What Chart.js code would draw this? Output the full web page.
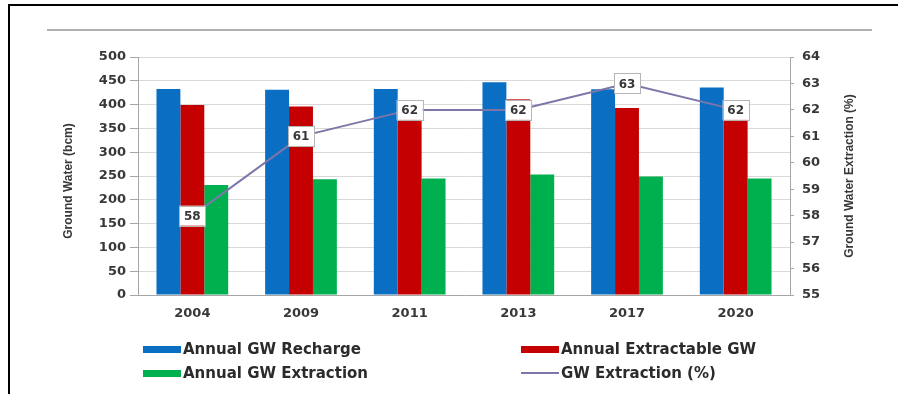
<!DOCTYPE html>
<html>
<head>
<meta charset="utf-8">
<title>Ground Water</title>
<script src="https://cdn.jsdelivr.net/npm/chart.js@4.4.1/dist/chart.umd.min.js"></script>
<style>
    html, body { margin: 0; padding: 0; background: #fff; }
    #frame { position: relative; width: 898px; height: 394px; overflow: hidden; }
    #edge { position: absolute; left: 8px; top: 4px; right: -6px; bottom: -6px;
            border-left: 2px solid #000; border-top: 2px solid #000; }
    #rule { position: absolute; left: 47px; top: 29px; width: 825px; height: 2px; background: #b0b0b0; }
    #gw { position: absolute; left: 0; top: 0; }
    .lg { position: absolute; display: flex; align-items: center; white-space: nowrap;
          font: bold 15px "DejaVu Sans", sans-serif; color: #2b2b2b; transform: translateY(-50%); }
    .sw { display: inline-block; width: 38px; height: 7px; margin-right: 2px; }
    .sw.line { height: 2px; }
</style>
</head>
<body>
<div id="frame">
    <div id="edge"></div>
    <div id="rule"></div>
    <canvas id="gw" width="898" height="394"></canvas>
    <div id="legend"></div>
</div>
<script>
// ---- data ----
const years         = ['2004', '2009', '2011', '2013', '2017', '2020'];
const recharge      = [433, 431, 433, 447, 432, 436];
const extractable   = [399, 396, 398, 411, 393, 398];
const extraction    = [231, 243, 245, 253, 249, 245];
const extractionPct = [58, 61, 62, 62, 63, 62];
const bcmTicks      = [0, 500, 50];   // min, max, step
const pctTicks      = [55, 64, 1];

const leftTitle  = 'Ground Water (bcm)';
const rightTitle = 'Ground Water Extraction (%)';

const blue = '#0a6fc2', red = '#c40000', green = '#00b04f', purple = '#7d76a8';
const gridC = '#d9d9d9', axisC = '#a6a6a6', textC = '#383838';
const tickFont = { family: '"DejaVu Sans", sans-serif', size: 13, weight: 'bold' };

// white boxed value labels on the line
const boxLabels = {
    id: 'boxLabels',
    afterDatasetsDraw(chart) {
        const idx = chart.data.datasets.findIndex(d => d.type === 'line');
        const meta = chart.getDatasetMeta(idx);
        const ctx = chart.ctx;
        ctx.save();
        ctx.font = 'bold 12px "DejaVu Sans", sans-serif';
        ctx.textAlign = 'center';
        ctx.textBaseline = 'middle';
        meta.data.forEach((pt, i) => {
            const w = 26, h = 20;
            ctx.fillStyle = '#fff';
            ctx.fillRect(pt.x - w / 2, pt.y - h / 2, w, h);
            ctx.strokeStyle = '#b5b5b5';
            ctx.lineWidth = 1;
            ctx.strokeRect(Math.round(pt.x - w / 2) + 0.5, Math.round(pt.y - h / 2) + 0.5, w, h);
            ctx.fillStyle = textC;
            ctx.fillText(String(chart.data.datasets[idx].data[i]), pt.x, pt.y + 1);
        });
        ctx.restore();
    }
};

// both axis titles read bottom-to-top
const axisTitles = {
    id: 'axisTitles',
    afterDraw(chart) {
        const ctx = chart.ctx;
        const a = chart.chartArea;
        const put = (txt, x, y) => {
            ctx.save();
            ctx.translate(x, y);
            ctx.rotate(-Math.PI / 2);
            ctx.fillText(txt, 0, 0);
            ctx.restore();
        };
        ctx.save();
        ctx.font = 'bold 12px "Liberation Sans", Arial, sans-serif';
        ctx.fillStyle = textC;
        ctx.textAlign = 'center';
        ctx.textBaseline = 'middle';
        put(leftTitle, 69, (a.top + a.bottom) / 2 + 5);
        put(rightTitle, 850, (a.top + a.bottom) / 2);
        ctx.restore();
    }
};

const chart = new Chart(document.getElementById('gw'), {
    type: 'bar',
    data: {
        labels: years,
        datasets: [
            { type: 'line', label: 'GW Extraction (%)', data: extractionPct, yAxisID: 'y1',
              borderColor: purple, borderWidth: 2, pointRadius: 0, tension: 0, order: 0 },
            { label: 'Annual GW Recharge', data: recharge, backgroundColor: blue, order: 1 },
            { label: 'Annual Extractable GW', data: extractable, backgroundColor: red, order: 1 },
            { label: 'Annual GW Extraction', data: extraction, backgroundColor: green, order: 1 }
        ]
    },
    options: {
        responsive: false,
        animation: false,
        categoryPercentage: 0.66,
        barPercentage: 1,
        layout: { padding: { left: 55, right: 0, top: 57, bottom: 69 } },
        plugins: { legend: { display: false }, tooltip: { enabled: false } },
        scales: {
            x: {
                grid: { display: false },
                border: { color: axisC, width: 1 },
                ticks: { font: tickFont, color: textC, padding: 3 },
                afterFit: s => { s.height = 30; }
            },
            y: {
                position: 'left',
                min: bcmTicks[0], max: bcmTicks[1],
                ticks: { stepSize: bcmTicks[2], font: tickFont, color: textC, padding: 4 },
                grid: { color: gridC, tickColor: axisC, tickLength: 8 },
                border: { color: axisC },
                afterFit: s => { s.width = 83; }
            },
            y1: {
                position: 'right',
                min: pctTicks[0], max: pctTicks[1],
                ticks: { stepSize: pctTicks[2], font: tickFont, color: textC, padding: 8 },
                grid: { drawOnChartArea: false, tickColor: axisC, tickLength: 4 },
                border: { color: axisC },
                afterFit: s => { s.width = 108; }
            }
        }
    },
    plugins: [boxLabels, axisTitles]
});

// legend in two columns, as in the figure
const legendSpots = {
    'Annual GW Recharge':    [143, 349],
    'Annual Extractable GW': [521, 349],
    'Annual GW Extraction':  [143, 373],
    'GW Extraction (%)':     [521, 373]
};
const legendBox = document.getElementById('legend');
chart.data.datasets.forEach(ds => {
    const [x, y] = legendSpots[ds.label];
    const item = document.createElement('div');
    item.className = 'lg';
    item.style.left = x + 'px';
    item.style.top = y + 'px';
    const sw = document.createElement('span');
    sw.className = ds.type === 'line' ? 'sw line' : 'sw';
    sw.style.background = ds.type === 'line' ? ds.borderColor : ds.backgroundColor;
    item.appendChild(sw);
    item.appendChild(document.createTextNode(ds.label));
    legendBox.appendChild(item);
});
</script>
</body>
</html>
